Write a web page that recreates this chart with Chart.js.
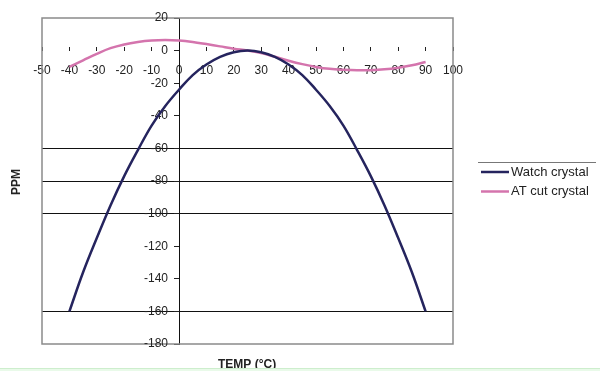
<!DOCTYPE html>
<html>
<head>
<meta charset="utf-8">
<script src="https://cdn.jsdelivr.net/npm/chart.js@4.4.1/dist/chart.umd.min.js"></script>
<style>
  html, body { margin: 0; padding: 0; background: #fff; }
  canvas { display: block; }
</style>
</head>
<body>
<canvas id="chart" width="600" height="371"></canvas>
<script>
// temperature in °C, readings every 5 degrees
const temps = [-40, -35, -30, -25, -20, -15, -10, -5, 0, 5, 10, 15, 20, 25, 30, 35, 40, 45, 50, 55, 60, 65, 70, 75, 80, 85, 90];
const watchPpm = [-160, -136, -115, -95, -77, -61, -46, -34, -24, -15, -8.5, -3.8, -1, 0, -1, -3.8, -8.5, -15, -24, -34, -46, -61, -77, -95, -115, -136, -160];
const atCutPpm = [-10, -6, -2, 1.5, 3.8, 5.3, 6.2, 6.5, 6.2, 5.3, 4, 2.6, 1.2, 0, -1.5, -3.8, -6.2, -8.3, -10, -11.2, -11.8, -12.1, -12, -11.5, -10.5, -9, -7];
const seriesNames = ['Watch crystal', 'AT cut crystal'];
const seriesColors = ['#25245e', '#d474ad'];
const darkGridAt = [-60, -80, -100, -160];

const font = "'Liberation Sans', Arial, sans-serif";

const toPoints = (ys) => ys.map((y, i) => ({ x: temps[i], y }));

const decor = {
  id: 'decor',
  beforeDatasetsDraw(chart) {
    const { ctx, chartArea: a } = chart;
    ctx.save();
    ctx.strokeStyle = '#8a8a8a';
    ctx.lineWidth = 1.5;
    ctx.strokeRect(a.left, a.top, a.right - a.left, a.bottom - a.top);

    // y tick labels, right aligned just left of the crossing axis
    const ys = chart.scales.y;
    const axisX = chart.scales.x.getPixelForValue(0);
    ctx.fillStyle = '#222';
    ctx.font = '12px ' + font;
    ctx.textAlign = 'right';
    ctx.textBaseline = 'middle';
    ys.ticks.forEach((t) => {
      ctx.fillText(String(t.value), axisX - 11, ys.getPixelForValue(t.value));
    });
    ctx.restore();
  },
  afterDraw(chart) {
    const { ctx } = chart;
    ctx.save();
    // axis titles
    ctx.fillStyle = '#222';
    ctx.font = 'bold 12px ' + font;
    ctx.textAlign = 'left';
    ctx.textBaseline = 'top';
    ctx.fillText('TEMP (°C)', 218, 359);
    ctx.translate(17, 182);
    ctx.rotate(-Math.PI / 2);
    ctx.textAlign = 'center';
    ctx.textBaseline = 'middle';
    ctx.fillText('PPM', 0, 0);
    ctx.setTransform(1, 0, 0, 1, 0, 0);

    // legend
    ctx.strokeStyle = '#777';
    ctx.lineWidth = 1;
    ctx.beginPath();
    ctx.moveTo(478, 162.5);
    ctx.lineTo(596, 162.5);
    ctx.stroke();
    ctx.font = '13px ' + font;
    ctx.textAlign = 'left';
    ctx.textBaseline = 'middle';
    seriesNames.forEach((name, i) => {
      const y = 172 + i * 19.5;
      ctx.strokeStyle = seriesColors[i];
      ctx.lineWidth = 2.5;
      ctx.beginPath();
      ctx.moveTo(481, y);
      ctx.lineTo(509, y);
      ctx.stroke();
      ctx.fillStyle = '#222';
      ctx.fillText(name, 511, y);
    });

    // pale green strip along the bottom edge
    ctx.fillStyle = '#e9fae9';
    ctx.fillRect(0, 368, 600, 3);
    ctx.fillStyle = '#cdeecd';
    ctx.fillRect(0, 368, 600, 1);
    ctx.restore();
  }
};

new Chart(document.getElementById('chart'), {
  type: 'line',
  data: {
    datasets: [
      {
        label: seriesNames[0],
        data: toPoints(watchPpm),
        borderColor: seriesColors[0],
        borderWidth: 2.5,
        pointRadius: 0,
        tension: 0.4,
        fill: false
      },
      {
        label: seriesNames[1],
        data: toPoints(atCutPpm),
        borderColor: seriesColors[1],
        borderWidth: 2.5,
        pointRadius: 0,
        tension: 0.4,
        fill: false
      }
    ]
  },
  options: {
    responsive: false,
    animation: false,
    layout: { padding: { left: 42, top: 18, right: 147, bottom: 27 } },
    plugins: {
      legend: { display: false },
      tooltip: { enabled: false }
    },
    scales: {
      x: {
        type: 'linear',
        position: { y: 0 },
        min: -50,
        max: 100,
        ticks: { stepSize: 10, color: '#222', font: { family: font, size: 12 }, padding: 17, maxRotation: 0, autoSkip: false },
        grid: { drawOnChartArea: false, drawTicks: true, tickLength: -4, tickColor: '#222' },
        border: { display: false }
      },
      y: {
        type: 'linear',
        position: { x: 0 },
        min: -180,
        max: 20,
        ticks: { stepSize: 20, display: false },
        grid: {
          color: (c) => darkGridAt.includes(c.tick.value) ? '#111' : 'rgba(0,0,0,0)',
          lineWidth: 1,
          drawTicks: true,
          tickLength: 5,
          tickColor: '#222'
        },
        border: { display: true, color: '#111', width: 1 }
      }
    }
  },
  plugins: [decor]
});
</script>
</body>
</html>
